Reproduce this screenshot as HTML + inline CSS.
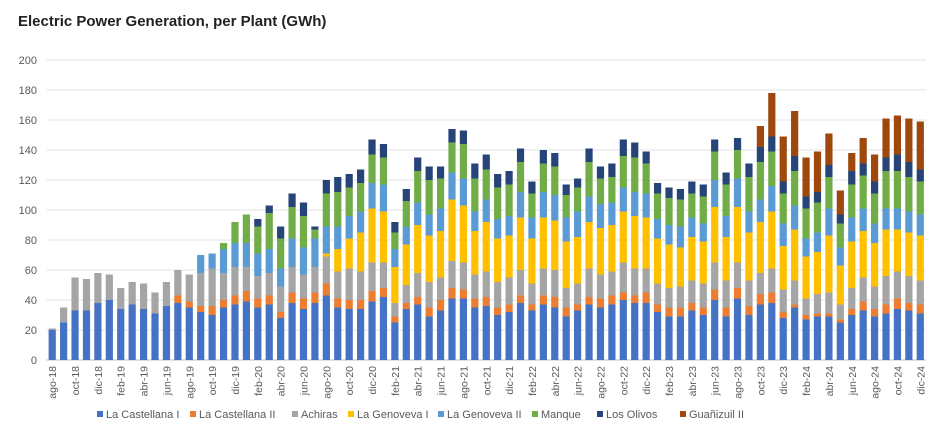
<!DOCTYPE html>
<html><head><meta charset="utf-8"><style>
body{margin:0;background:#fff;font-family:"Liberation Sans",sans-serif}
</style></head><body>
<svg id="c" width="941" height="442" xmlns="http://www.w3.org/2000/svg">
<rect width="941" height="442" fill="#fff"/>
<text x="18" y="26" font-size="15" font-weight="bold" fill="#222">Electric Power Generation, per Plant (GWh)</text>
<g id="grid"></g><g id="bars"></g><g id="xl"></g><g id="leg"></g>
</svg>
<script>
const months=["ene","feb","mar","abr","may","jun","jul","ago","sep","oct","nov","dic"];
const seriesNames=["La Castellana I","La Castellana II","Achiras","La Genoveva I","La Genoveva II","Manque","Los Olivos","Guañizuil II"];
const yTicks=[0,20,40,60,80,100,120,140,160,180,200];
const castellana1=[20,25,33,33,38,40,34,37,34,31,36,38,35,32,30,35,37,39,35,37,28,38,34,38,43,35,34,34,39,42,25,34,37,29,33,41,41,35,36,30,32,38,33,37,35,29,33,37,35,37,40,38,38,32,29,29,33,30,40,29,41,30,37,38,28,35,27,29,29,25,30,33,29,31,34,33,31];
const castellana2=[0,0,0,0,0,0,0,0,0,0,0,5,4,4,6,5,6,7,6,6,4,7,7,7,8,6,6,6,7,6,4,4,5,6,7,7,6,6,6,5,5,5,4,6,7,6,4,5,6,6,5,5,7,5,6,6,5,5,7,6,7,6,7,7,4,2,3,2,2,2,4,6,5,6,7,5,6];
const achiras=[1,10,22,21,20,17,14,15,17,14,16,17,18,22,25,18,19,16,15,15,17,17,16,17,18,18,21,19,19,17,9,12,16,17,15,18,18,16,17,17,18,17,14,18,18,13,14,19,16,16,20,18,16,14,13,14,15,16,18,18,17,17,14,16,15,16,11,13,14,10,14,16,15,19,18,18,16];
const genoveva1=[0,0,0,0,0,0,0,0,0,0,0,0,0,0,0,0,0,0,0,0,0,0,0,0,2,15,20,26,36,34,24,27,32,31,31,41,38,29,33,29,28,35,30,34,33,31,31,31,31,31,34,35,34,30,29,26,29,28,37,29,37,32,34,38,29,34,28,28,38,26,31,31,29,31,28,29,30];
const genoveva2=[0,0,0,0,0,0,0,0,0,0,0,0,0,12,10,16,16,16,15,16,12,19,18,19,18,15,15,14,17,18,12,12,15,14,15,18,18,13,15,13,13,17,14,17,17,16,17,17,16,15,16,16,16,13,13,14,13,12,18,14,19,14,15,17,15,16,12,13,18,12,16,15,13,14,14,14,14];
const manque=[0,0,0,0,0,0,0,0,0,0,0,0,0,0,0,4,14,19,18,24,20,21,21,6,22,23,19,19,19,18,11,17,21,23,20,20,23,22,20,21,21,20,16,19,19,15,16,23,17,17,21,23,20,17,18,18,16,18,19,21,19,23,25,23,20,23,20,20,21,16,22,22,20,25,25,23,22];
const olivos=[0,0,0,0,0,0,0,0,0,0,0,0,0,0,0,0,0,0,5,5,8,9,9,2,9,10,9,9,10,9,7,8,9,9,8,9,9,10,10,9,9,9,8,9,9,7,6,9,8,9,11,10,8,7,7,7,8,8,8,8,8,9,10,10,8,10,8,7,8,6,9,8,8,9,11,10,8];
const guanizuil=[0,0,0,0,0,0,0,0,0,0,0,0,0,0,0,0,0,0,0,0,0,0,0,0,0,0,0,0,0,0,0,0,0,0,0,0,0,0,0,0,0,0,0,0,0,0,0,0,0,0,0,0,0,0,0,0,0,0,0,0,0,0,14,29,30,30,26,27,21,16,12,17,18,26,26,29,32];
const series=[castellana1,castellana2,achiras,genoveva1,genoveva2,manque,olivos,guanizuil];
const colors=["#4472C4","#ED7D31","#A5A5A5","#FFC000","#5B9BD5","#70AD47","#264478","#9E480E"];
const N=castellana1.length;
const categories=[];for(let i=0;i<N;i++){const m=(7+i)%12,y=18+Math.floor((7+i)/12);categories.push(months[m]+"-"+y);}
const NS="http://www.w3.org/2000/svg";
const X0=46.5,X1=926,Y0=360,Y1=60;
const step=(X1-X0)/N;
const xS=i=>X0+step*(i+0.5);
const yS=v=>Y0-(v/200)*(Y0-Y1);
function mk(t,a,p){const e=document.createElementNS(NS,t);for(const k in a)e.setAttribute(k,a[k]);p.appendChild(e);return e;}
const grid=document.getElementById('grid');
yTicks.forEach(t=>{
 const l=mk('line',{x1:X0,x2:X1,y1:yS(t),y2:yS(t),stroke:t===0?'#bfbfbf':'#e3e3e3','stroke-width':1},grid);
 
 
 const tx=mk('text',{x:37,y:yS(t)+4,'text-anchor':'end','font-size':11,fill:'#595959'},grid);
 tx.textContent=t;
 
 
});
const bars=document.getElementById('bars');
for(let i=0;i<N;i++){
 let acc=0;
 series.forEach((s,k)=>{
  const v=s[i];if(v<=0)return;
  const r=mk('rect',{x:xS(i)-3.6,y:yS(acc+v),width:7.2,height:yS(acc)-yS(acc+v),fill:colors[k]},bars);
  
  
  acc+=v;
 });
}
const xl=document.getElementById('xl');
for(let i=0;i<N;i+=2){
 const t=mk('text',{x:0,y:0,'text-anchor':'end','font-size':10.5,fill:'#595959',transform:`translate(${xS(i)+4},366) rotate(-90)`},xl);
 t.textContent=categories[i];
 
 
}
const leg=document.getElementById('leg');
const lx=[97,190,292,348,438,532,597,680];
seriesNames.forEach((n,k)=>{
 const r=mk('rect',{x:lx[k],y:411,width:6,height:6,fill:colors[k]},leg);
 
 
 const t=mk('text',{x:lx[k]+9,y:418,'font-size':11,fill:'#595959'},leg);
 t.textContent=n;
 
 
});
</script>
</body></html>
